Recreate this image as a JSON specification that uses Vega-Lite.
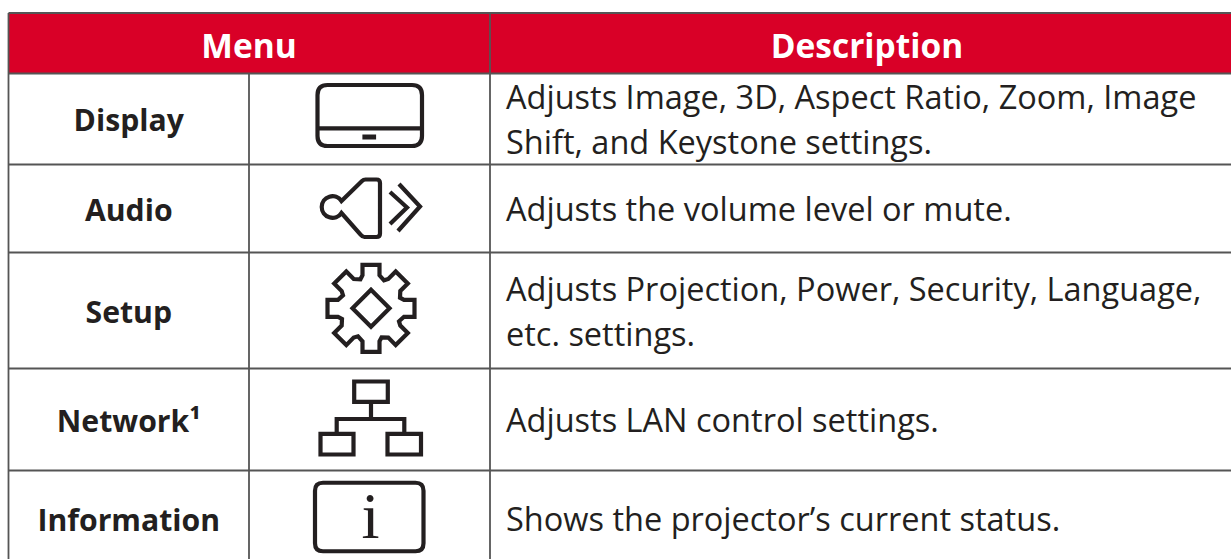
{"$schema":"https://vega.github.io/schema/vega-lite/v6.json","width":1231,"height":559,"padding":0,"autosize":{"type":"none"},"background":"white","view":{"stroke":null},
"datasets":{
"header":[{"c":0,"c2":3,"r":0,"r2":1}],
"vlines":[{"c":0,"r":0,"r2":6},{"c":1,"r":1,"r2":6},{"c":2,"r":0,"r2":6}],
"hlines":[{"r":0,"c":0,"c2":3},{"r":1,"c":0,"c2":3},{"r":2,"c":0,"c2":3},{"r":3,"c":0,"c2":3},{"r":4,"c":0,"c2":3},{"r":5,"c":0,"c2":3}],
"titles":[{"r":0.5,"c":1,"label":"Menu"},{"r":0.5,"c":2.5,"label":"Description"}],
"menu":[{"r":1.5,"c":0.5,"label":"Display"},{"r":2.5,"c":0.5,"label":"Audio"},{"r":3.5,"c":0.5,"label":"Setup"},{"r":4.5,"c":0.5,"label":"Network¹"},{"r":5.5,"c":0.5,"label":"Information"}],
"desc1":[{"r":2.5,"c":2,"label":"Adjusts the volume level or mute."},{"r":4.5,"c":2,"label":"Adjusts LAN control settings."},{"r":5.5,"c":2,"label":"Shows the projector’s current status."}],
"desc2":[{"r":1.5,"c":2,"label":"Adjusts Image, 3D, Aspect Ratio, Zoom, Image\nShift, and Keystone settings."},{"r":3.5,"c":2,"label":"Adjusts Projection, Power, Security, Language,\netc. settings."}],
"icons":[{"r":1.5,"c":1.5,"icon":"display"},{"r":2.5,"c":1.5,"icon":"audio"},{"r":3.5,"c":1.5,"icon":"setup"},{"r":4.5,"c":1.5,"icon":"network"},{"r":5.5,"c":1.5,"icon":"information"}],
"infoglyph":[{"r":5.5,"c":1.5,"label":"i"}]
},
"encoding":{
"x":{"field":"c","type":"quantitative","axis":null,"scale":{"domain":[0,1,2,3],"range":[8.5,249,490,1244],"nice":false,"zero":false}},
"y":{"field":"r","type":"quantitative","axis":null,"scale":{"domain":[0,1,2,3,4,5,6],"range":[13,73.5,164.5,252.5,368.5,470.5,568],"nice":false,"zero":false}}
},
"layer":[
{"data":{"name":"header"},"mark":{"type":"rect","color":"#d90027"},"encoding":{"x2":{"field":"c2"},"y2":{"field":"r2"}}},
{"data":{"name":"vlines"},"mark":{"type":"rule","color":"#555555","strokeWidth":1.8},"encoding":{"y2":{"field":"r2"}}},
{"data":{"name":"hlines"},"mark":{"type":"rule","color":"#555555","strokeWidth":1.8},"encoding":{"x2":{"field":"c2"}}},
{"data":{"name":"titles"},"mark":{"type":"text","font":"Open Sans","fontWeight":"bold","fontSize":33.5,"color":"white","baseline":"alphabetic","align":"center","dy":14.5},"encoding":{"text":{"field":"label"}}},
{"data":{"name":"menu"},"mark":{"type":"text","font":"Open Sans","fontWeight":"bold","fontSize":30.2,"color":"#231f20","baseline":"alphabetic","align":"center","dy":12},"encoding":{"text":{"field":"label"}}},
{"data":{"name":"desc1"},"mark":{"type":"text","font":"Open Sans","fontSize":32.5,"color":"#231f20","baseline":"alphabetic","align":"left","dx":16,"dy":12},"encoding":{"text":{"field":"label"}}},
{"data":{"name":"desc2"},"mark":{"type":"text","font":"Open Sans","fontSize":32.5,"color":"#231f20","baseline":"alphabetic","align":"left","dx":16,"dy":-10,"lineBreak":"\n","lineHeight":45},"encoding":{"text":{"field":"label"}}},
{"data":{"name":"icons"},"mark":{"type":"point","filled":false,"size":4,"opacity":1,"stroke":"#231f20","strokeWidth":4.2},"encoding":{"shape":{"field":"icon","type":"nominal","legend":null,"scale":{"domain":["display","audio","setup","network","information"],"range":[
"M-42,-34L42.5,-34Q52.5,-34 52.5,-24L52.5,17Q52.5,27 42.5,27L-42,27Q-52,27 -52,17L-52,-24Q-52,-34 -42,-34Z M-52,9.3L52.5,9.3 M-5,17.5L4.5,17.5L4.5,18.5L-5,18.5Z",
"M-28,-7.5L-7.5,-27.5Q-6,-29 -4,-29L7,-29Q10.5,-29 10.5,-25.5L10.5,25Q10.5,28.5 7,28.5L-5,28.5Q-7,28.5 -8.5,26.5L-28,4.5A10.8,10.8 0 1 1 -28,-7.5Z M20.5,-16.5L37.5,-1L20.5,15.5 M29.5,-24.5L50.5,-2L28.5,22.5",
"M-7,-35.2L-7,-45.7L10,-45.7L10,-35.2L14.5,-30.2L18.8,-31.5L26.2,-39L38.3,-26.9L30.8,-19.5L30.5,-12.8L34.5,-10.7L45,-10.7L45,6.3L34.5,6.3L29.5,10.8L30.8,15.1L38.3,22.5L26.2,34.6L18.8,27.1L12.1,26.8L10,30.8L10,41.3L-7,41.3L-7,30.8L-11.5,25.8L-15.8,27.1L-23.2,34.6L-35.3,22.5L-27.8,15.1L-27.5,8.4L-31.5,6.3L-42,6.3L-42,-10.7L-31.5,-10.7L-26.5,-15.2L-27.8,-19.5L-35.3,-26.9L-23.2,-39L-15.8,-31.5L-9.1,-31.2Z M1.5,-20.7L20,-2.2L1.5,16.3L-17,-2.2Z",
"M-15.3,-38L18.3,-38L18.3,-17.7L-15.3,-17.7Z M1.5,-17.7L1.5,-0.5 M-32.8,14.3L-32.8,-0.5L34.8,-0.5L34.8,14.3 M-49,14.3L-16,14.3L-16,35L-49,35Z M18,14.3L51.5,14.3L51.5,35L18,35Z",
"M-46.5,-36.5L46,-36.5Q54,-36.5 54,-28.5L54,24Q54,32 46,32L-46.5,32Q-54.5,32 -54.5,24L-54.5,-28.5Q-54.5,-36.5 -46.5,-36.5Z"
]}}}},
{"data":{"name":"infoglyph"},"mark":{"type":"text","font":"Liberation Serif","fontSize":65,"color":"#231f20","baseline":"alphabetic","align":"center","dx":1,"dy":19},"encoding":{"text":{"field":"label"}}}
]}
